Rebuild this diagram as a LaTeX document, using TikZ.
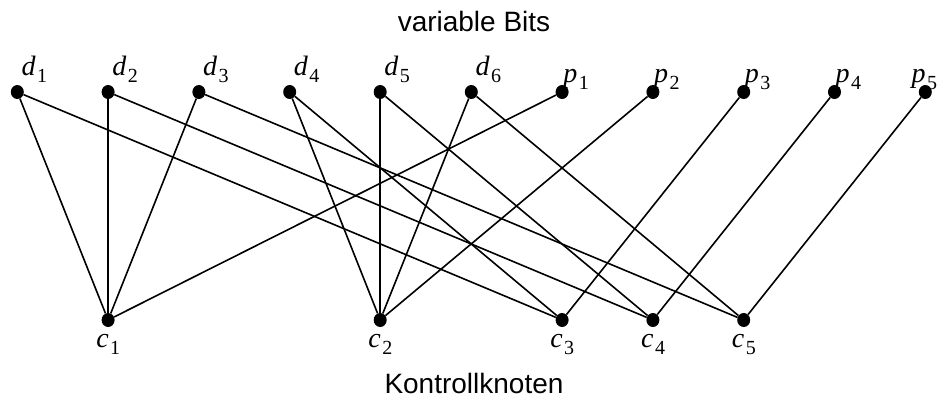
\documentclass[tikz,border=0pt]{standalone}
\usepackage{fontspec}
\usetikzlibrary{shapes.geometric}
\setmainfont{Liberation Serif}
\newfontfamily\lsans{Liberation Sans}
\newcommand\bitlbl[2]{\fontsize{28}{28}\selectfont\textit{#1}\kern1.5pt\raisebox{-7pt}{\fontsize{20}{20}\selectfont #2}}
\begin{document}
\begin{tikzpicture}[x=1pt,y=-1pt,
  dot/.style={ellipse,fill=black,inner sep=0pt,minimum width=13pt,minimum height=14pt},
  edge/.style={line width=1.6pt,black},
  toplbl/.style={anchor=base west,inner sep=0pt},
  botlbl/.style={anchor=base west,inner sep=0pt},
  title/.style={anchor=base,inner sep=0pt,font=\lsans\fontsize{28}{28}\selectfont}]
\useasboundingbox (0,0) rectangle (939,400);
% top nodes
\foreach \n/\x in {d1/17.3,d2/108.1,d3/198.9,d4/289.7,d5/380.2,d6/471.3,p1/562.1,p2/652.9,p3/743.7,p4/834.5,p5/925.3}
  \node[dot] (\n) at (\x,92) {};
% bottom nodes
\foreach \n/\x in {c1/108.1,c2/380.2,c3/562.1,c4/652.9,c5/743.7}
  \node[dot] (\n) at (\x,320) {};
% labels
\foreach \i in {1,...,6}
  \node[toplbl] (ld\i) at ([xshift=4pt,yshift=17pt]d\i.center) {\bitlbl{d}{\i}};
\foreach \i in {1,...,4}
  \node[toplbl] (lp\i) at ([xshift=1pt,yshift=10pt]p\i.center) {\bitlbl{p}{\i}};
\node[toplbl] (lp5) at ([xshift=-14pt,yshift=10pt]p5.center) {\bitlbl{p}{5}};
\foreach \i in {1,...,5}
  \node[botlbl] (lc\i) at ([xshift=-12pt,yshift=-27pt]c\i.center) {\bitlbl{c}{\i}};
% titles
\node[title] (top) at (474,31) {variable Bits};
\node[title] (bot) at (474,393) {Kontrollknoten};
% edges
\foreach \a/\b in {d1/c1,d2/c1,d3/c1,p1/c1,
                   d4/c2,d5/c2,d6/c2,p2/c2,
                   d1/c3,d4/c3,p3/c3,
                   d2/c4,d5/c4,p4/c4,
                   d3/c5,d6/c5,p5/c5}
  \draw[edge] (\a) -- (\b);
\end{tikzpicture}
\end{document}
